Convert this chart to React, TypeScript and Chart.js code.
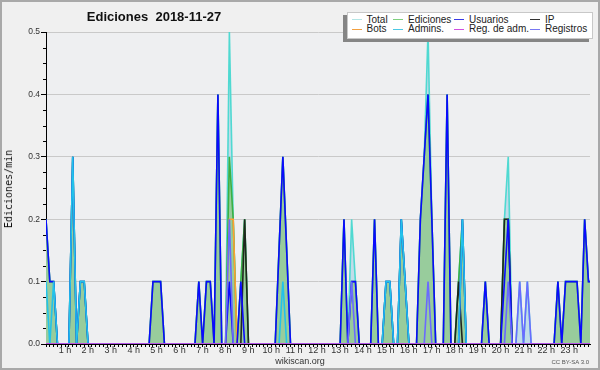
import React, { useEffect, useRef } from "react";
import { Chart, registerables } from "chart.js";

Chart.register(...registerables);

// 10-minute slots, one row per hour (6 values each)
const TOTAL = [
  0.2, 0.1, 0.1, 0, 0, 0,
  0, 0.3, 0, 0.1, 0.1, 0,
  0, 0, 0, 0, 0, 0,
  0, 0, 0, 0, 0, 0,
  0, 0, 0, 0, 0.1, 0.1,
  0.1, 0, 0, 0, 0, 0,
  0, 0, 0, 0, 0.1, 0,
  0.1, 0.1, 0, 0.4, 0, 0,
  0.5, 0.2, 0, 0.1, 0.2, 0,
  0, 0, 0, 0, 0, 0,
  0, 0.15, 0.3, 0.15, 0, 0,
  0, 0, 0, 0, 0, 0,
  0, 0, 0, 0, 0, 0,
  0.2, 0, 0.2, 0.1, 0, 0,
  0, 0, 0.2, 0, 0, 0.1,
  0.1, 0, 0, 0.2, 0.1, 0,
  0, 0, 0.2, 0.3, 0.5, 0.2,
  0, 0, 0, 0.4, 0, 0,
  0.1, 0.2, 0, 0, 0, 0,
  0, 0.1, 0, 0, 0, 0,
  0.2, 0.3, 0, 0, 0.1, 0,
  0.1, 0, 0, 0, 0, 0,
  0, 0, 0.1, 0, 0.1, 0.1,
  0.1, 0.1, 0, 0.2, 0.1, 0.1,
];

const EDICIONES = [
  0.2, 0.1, 0.1, 0, 0, 0,
  0, 0.3, 0, 0.1, 0.1, 0,
  0, 0, 0, 0, 0, 0,
  0, 0, 0, 0, 0, 0,
  0, 0, 0, 0, 0.1, 0.1,
  0.1, 0, 0, 0, 0, 0,
  0, 0, 0, 0, 0.1, 0,
  0.1, 0.1, 0, 0.4, 0, 0,
  0.3, 0.2, 0, 0.1, 0.2, 0,
  0, 0, 0, 0, 0, 0,
  0, 0.15, 0.3, 0.15, 0, 0,
  0, 0, 0, 0, 0, 0,
  0, 0, 0, 0, 0, 0,
  0.2, 0, 0.1, 0.1, 0, 0,
  0, 0, 0.2, 0, 0, 0.1,
  0.1, 0, 0, 0.2, 0.1, 0,
  0, 0, 0.2, 0.3, 0.4, 0.2,
  0, 0, 0, 0.4, 0, 0,
  0.1, 0.2, 0, 0, 0, 0,
  0, 0.1, 0, 0, 0, 0,
  0.2, 0.2, 0, 0, 0, 0,
  0, 0, 0, 0, 0, 0,
  0, 0, 0.1, 0, 0.1, 0.1,
  0.1, 0.1, 0, 0.2, 0.1, 0.1,
];

const USUARIOS = [
  0.2, 0.1, 0.1, 0, 0, 0,
  0, 0.3, 0, 0.1, 0.1, 0,
  0, 0, 0, 0, 0, 0,
  0, 0, 0, 0, 0, 0,
  0, 0, 0, 0, 0.1, 0.1,
  0.1, 0, 0, 0, 0, 0,
  0, 0, 0, 0, 0.1, 0,
  0.1, 0.1, 0, 0.4, 0, 0,
  0.1, 0, 0, 0.1, 0, 0,
  0, 0, 0, 0, 0, 0,
  0, 0.15, 0.3, 0.15, 0, 0,
  0, 0, 0, 0, 0, 0,
  0, 0, 0, 0, 0, 0,
  0.2, 0, 0.1, 0.1, 0, 0,
  0, 0, 0.2, 0, 0, 0.1,
  0.1, 0, 0, 0.2, 0.1, 0,
  0, 0, 0.2, 0.3, 0.4, 0.2,
  0, 0, 0, 0.4, 0, 0,
  0, 0.2, 0, 0, 0, 0,
  0, 0.1, 0, 0, 0, 0,
  0.1, 0.2, 0, 0, 0, 0,
  0, 0, 0, 0, 0, 0,
  0, 0, 0.1, 0, 0.1, 0.1,
  0.1, 0.1, 0, 0.2, 0.1, 0.1,
];

const IP = [
  0, 0, 0, 0, 0, 0,
  0, 0, 0, 0, 0, 0,
  0, 0, 0, 0, 0, 0,
  0, 0, 0, 0, 0, 0,
  0, 0, 0, 0, 0, 0,
  0, 0, 0, 0, 0, 0,
  0, 0, 0, 0, 0, 0,
  0, 0, 0, 0, 0, 0,
  0, 0, 0, 0, 0.2, 0,
  0, 0, 0, 0, 0, 0,
  0, 0, 0, 0, 0, 0,
  0, 0, 0, 0, 0, 0,
  0, 0, 0, 0, 0, 0,
  0, 0, 0, 0, 0, 0,
  0, 0, 0, 0, 0, 0,
  0, 0, 0, 0, 0, 0,
  0, 0, 0, 0, 0, 0,
  0, 0, 0, 0, 0, 0,
  0.1, 0, 0, 0, 0, 0,
  0, 0, 0, 0, 0, 0,
  0.2, 0.2, 0, 0, 0, 0,
  0, 0, 0, 0, 0, 0,
  0, 0, 0, 0, 0, 0,
  0, 0, 0, 0, 0, 0,
];

const BOTS = [
  0, 0, 0, 0, 0, 0,
  0, 0, 0, 0, 0, 0,
  0, 0, 0, 0, 0, 0,
  0, 0, 0, 0, 0, 0,
  0, 0, 0, 0, 0, 0,
  0, 0, 0, 0, 0, 0,
  0, 0, 0, 0, 0, 0,
  0, 0, 0, 0, 0, 0,
  0.2, 0.2, 0, 0, 0, 0,
  0, 0, 0, 0, 0, 0,
  0, 0, 0, 0, 0, 0,
  0, 0, 0, 0, 0, 0,
  0, 0, 0, 0, 0, 0,
  0, 0, 0, 0, 0, 0,
  0, 0, 0, 0, 0, 0,
  0, 0, 0, 0, 0, 0,
  0, 0, 0, 0, 0, 0,
  0, 0, 0, 0, 0, 0,
  0, 0, 0, 0, 0, 0,
  0, 0, 0, 0, 0, 0,
  0, 0, 0, 0, 0, 0,
  0, 0, 0, 0, 0, 0,
  0, 0, 0, 0, 0, 0,
  0, 0, 0, 0, 0, 0,
];

const ADMINS = [
  0.1, 0, 0.1, 0, 0, 0,
  0, 0.3, 0, 0.1, 0.1, 0,
  0, 0, 0, 0, 0, 0,
  0, 0, 0, 0, 0, 0,
  0, 0, 0, 0, 0, 0,
  0, 0, 0, 0, 0, 0,
  0, 0, 0, 0, 0, 0,
  0, 0, 0, 0, 0, 0,
  0, 0, 0, 0, 0, 0,
  0, 0, 0, 0, 0, 0,
  0, 0, 0.1, 0, 0, 0,
  0, 0, 0, 0, 0, 0,
  0, 0, 0, 0, 0, 0,
  0, 0, 0, 0, 0, 0,
  0, 0, 0, 0, 0, 0.1,
  0.1, 0, 0, 0.2, 0.1, 0,
  0, 0, 0, 0, 0, 0,
  0, 0, 0, 0, 0, 0,
  0, 0.2, 0, 0, 0, 0,
  0, 0, 0, 0, 0, 0,
  0, 0, 0, 0, 0, 0,
  0, 0, 0, 0, 0, 0,
  0, 0, 0, 0, 0, 0,
  0, 0, 0, 0, 0, 0,
];

const REG_ADM = [
  0, 0, 0, 0, 0, 0, 0, 0, 0, 0, 0, 0, 0, 0, 0, 0, 0, 0, 0, 0, 0, 0, 0, 0,
  0, 0, 0, 0, 0, 0, 0, 0, 0, 0, 0, 0, 0, 0, 0, 0, 0, 0, 0, 0, 0, 0, 0, 0,
  0, 0, 0, 0, 0, 0, 0, 0, 0, 0, 0, 0, 0, 0, 0, 0, 0, 0, 0, 0, 0, 0, 0, 0,
  0, 0, 0, 0, 0, 0, 0, 0, 0, 0, 0, 0, 0, 0, 0, 0, 0, 0, 0, 0, 0, 0, 0, 0,
  0, 0, 0, 0, 0, 0, 0, 0, 0, 0, 0, 0, 0, 0, 0, 0, 0, 0, 0, 0, 0, 0, 0, 0,
  0, 0, 0, 0, 0, 0, 0, 0, 0, 0, 0, 0, 0, 0, 0, 0, 0, 0, 0, 0, 0, 0, 0, 0,
];

const REGISTROS = [
  0, 0, 0, 0, 0, 0,
  0, 0, 0, 0, 0, 0,
  0, 0, 0, 0, 0, 0,
  0, 0, 0, 0, 0, 0,
  0, 0, 0, 0, 0, 0,
  0, 0, 0, 0, 0, 0,
  0, 0, 0, 0, 0, 0,
  0, 0, 0, 0, 0, 0,
  0.2, 0, 0, 0, 0, 0,
  0, 0, 0, 0, 0, 0,
  0, 0, 0, 0, 0, 0,
  0, 0, 0, 0, 0, 0,
  0, 0, 0, 0, 0, 0,
  0, 0, 0.1, 0, 0, 0,
  0, 0, 0, 0, 0, 0,
  0, 0, 0, 0, 0, 0,
  0, 0, 0, 0, 0.1, 0,
  0, 0, 0, 0, 0, 0,
  0, 0, 0, 0, 0, 0,
  0, 0, 0, 0, 0, 0,
  0, 0.1, 0, 0, 0.1, 0,
  0.1, 0, 0, 0, 0, 0,
  0, 0, 0, 0, 0, 0,
  0, 0, 0, 0, 0, 0,
];

const HOUR_LABELS = [
  "1 h", "2 h", "3 h", "4 h", "5 h", "6 h", "7 h", "8 h", "9 h", "10 h", "11 h", "12 h",
  "13 h", "14 h", "15 h", "16 h", "17 h", "18 h", "19 h", "20 h", "21 h", "22 h", "23 h",
];
const Y_LABELS = ["0.0", "0.1", "0.2", "0.3", "0.4", "0.5"];

const LEGEND_LABELS = ["Total", "Ediciones", "Usuarios", "IP", "Bots", "Admins.", "Reg. de adm.", "Registros"];
const LEGEND_COLORS = ["#b4e6e6", "#7fd07f", "#3a3ae6", "#333333", "#f2a040", "#4cc8e4", "#d050e0", "#7878f2"];

const SLOT_MAX = 142.4;
const TITLE = "Ediciones  2018-11-27";

const toPts = (arr: number[]) => arr.map((v, i) => ({ x: i, y: v }));

const plotBg = {
  id: "plotBg",
  beforeDraw(chart: any) {
    const { ctx, chartArea: a } = chart;
    ctx.save();
    ctx.fillStyle = "#eeeff1";
    ctx.fillRect(a.left, a.top, a.right - a.left, a.bottom - a.top);
    ctx.restore();
  },
};

const minorTicks = {
  id: "minorTicks",
  afterDraw(chart: any) {
    const y = chart.scales.y;
    const ctx = chart.ctx;
    const left = chart.chartArea.left;
    ctx.save();
    ctx.strokeStyle = "#000";
    ctx.lineWidth = 1;
    ctx.beginPath();
    for (let k = 0; k <= 20; k++) {
      if (k % 4 === 0) continue;
      const py = Math.round(y.getPixelForValue(k * 0.025)) + 0.5;
      ctx.moveTo(left - 3, py);
      ctx.lineTo(left, py);
    }
    ctx.stroke();
    ctx.restore();
  },
};

export default function App() {
  const ref = useRef<HTMLCanvasElement>(null);

  useEffect(() => {
    const slots = TOTAL.map((_, i) => i);
    const line = (label: string, data: number[], color: string, extra: any = {}) => ({
      label,
      data: toPts(data),
      borderColor: color,
      borderWidth: 1.6,
      pointRadius: 0,
      tension: 0,
      fill: false,
      ...extra,
    });
    const chart = new Chart(ref.current as HTMLCanvasElement, {
      type: "line",
      data: {
        datasets: [
          line("Reg. de adm.", REG_ADM, "#d048e0"),
          line("Registros", REGISTROS, "#6a6aff"),
          line("Admins.", ADMINS, "#22c2ea"),
          line("Usuarios", USUARIOS, "#0a0aff"),
          line("Bots", BOTS, "#ffa030"),
          line("IP", IP, "#1e261e"),
          line("Ediciones", EDICIONES, "#3cb043", { fill: "origin", backgroundColor: "#98cc9c" }),
          line("Total", TOTAL, "rgba(72,216,208,0.95)", { fill: "origin", backgroundColor: "rgba(178,214,230,0.75)" }),
        ],
      },
      options: {
        responsive: false,
        maintainAspectRatio: false,
        devicePixelRatio: 1,
        animation: false,
        layout: { padding: { left: 0, right: 10, top: 32, bottom: 0 } },
        plugins: {
          legend: { display: false },
          tooltip: { enabled: false },
          title: { display: false },
        },
        scales: {
          x: {
            type: "linear",
            min: 0,
            max: SLOT_MAX,
            afterFit: (s: any) => {
              s.height = 26;
            },
            afterBuildTicks: (s: any) => {
              s.ticks = slots.filter((v) => v <= SLOT_MAX).map((v) => ({ value: v }));
            },
            grid: { display: true, drawOnChartArea: false, drawTicks: true, tickLength: 3, tickColor: "#000" },
            border: { display: true, color: "#000", width: 1 },
            ticks: {
              autoSkip: false,
              maxRotation: 0,
              padding: -1,
              labelOffset: -4,
              color: "#333",
              font: { family: "'Liberation Sans', Arial, sans-serif", size: 9, lineHeight: 1 },
              callback: (v: any) => {
                const n = Number(v);
                if (Number.isInteger(n) && n > 0 && n % 6 === 0) return HOUR_LABELS[n / 6 - 1] ?? "";
                return "";
              },
            },
          },
          y: {
            min: 0,
            max: 0.5,
            afterFit: (s: any) => {
              s.width = 46;
            },
            grid: { color: "#c9c9c9", lineWidth: 1, tickColor: "#000", tickLength: 5 },
            border: { display: true, color: "#000", width: 1 },
            ticks: {
              stepSize: 0.1,
              padding: 1,
              color: "#333",
              font: { family: "'Liberation Sans', Arial, sans-serif", size: 8.5 },
              callback: (v: any) => Y_LABELS[Math.round(Number(v) * 10)] ?? "",
            },
          },
        },
      } as any,
      plugins: [plotBg, minorTicks],
    });
    return () => chart.destroy();
  }, []);

  const colX = [352, 393, 453.5, 529.5];
  const textX = [366.5, 408, 469, 545];
  const swY = [19.3, 29.3];
  const txY = [13.5, 23.3];

  return (
    <div
      style={{
        position: "absolute",
        left: 0,
        top: 0,
        width: 600,
        height: 370,
        background: "#f0f0f0",
        overflow: "hidden",
        fontFamily: "'Liberation Sans', Arial, sans-serif",
      }}
    >
      <canvas ref={ref} width={600} height={370} style={{ position: "absolute", left: 0, top: 0, width: 600, height: 370 }} />
      <div
        style={{
          position: "absolute",
          left: 154,
          top: 9,
          transform: "translateX(-50%)",
          font: "bold 13px 'Liberation Sans', Arial, sans-serif",
          lineHeight: "15px",
          whiteSpace: "pre",
          color: "#111",
        }}
      >
        {TITLE}
      </div>
      <div
        style={{
          position: "absolute",
          left: 9,
          top: 189,
          transform: "translate(-50%, -50%) rotate(-90deg)",
          font: "10px 'DejaVu Sans Mono', monospace",
          lineHeight: "12px",
          whiteSpace: "pre",
          color: "#111",
        }}
      >
        Ediciones/min
      </div>
      <div
        style={{
          position: "absolute",
          left: 300,
          top: 356,
          transform: "translateX(-50%)",
          fontSize: 9,
          lineHeight: "10px",
          color: "#333",
          whiteSpace: "pre",
        }}
      >
        wikiscan.org
      </div>
      <div
        style={{
          position: "absolute",
          right: 11,
          top: 359,
          fontSize: 6,
          lineHeight: "7px",
          color: "#555",
          whiteSpace: "pre",
        }}
      >
        CC BY-SA 3.0
      </div>
      {/* legend */}
      <div style={{ position: "absolute", left: 343, top: 15, width: 246, height: 27, background: "#858585" }} />
      <div
        style={{
          position: "absolute",
          left: 347,
          top: 11.5,
          width: 246,
          height: 27,
          background: "#fff",
          border: "1px solid #c8c8c8",
          boxSizing: "border-box",
        }}
      />
      {LEGEND_LABELS.map((lab, k) => {
        const col = k % 4;
        const row = Math.floor(k / 4);
        return (
          <React.Fragment key={lab}>
            <div
              style={{
                position: "absolute",
                left: colX[col],
                top: swY[row] - 0.75,
                width: 10,
                height: 1.5,
                background: LEGEND_COLORS[k],
              }}
            />
            <div
              style={{
                position: "absolute",
                left: textX[col],
                top: txY[row],
                fontSize: 10,
                lineHeight: "12px",
                color: "#222",
                whiteSpace: "pre",
              }}
            >
              {lab}
            </div>
          </React.Fragment>
        );
      })}
      <div
        style={{
          position: "absolute",
          left: 0,
          top: 0,
          width: 600,
          height: 370,
          border: "2px solid #a9a9a9",
          boxSizing: "border-box",
          pointerEvents: "none",
        }}
      />
    </div>
  );
}
